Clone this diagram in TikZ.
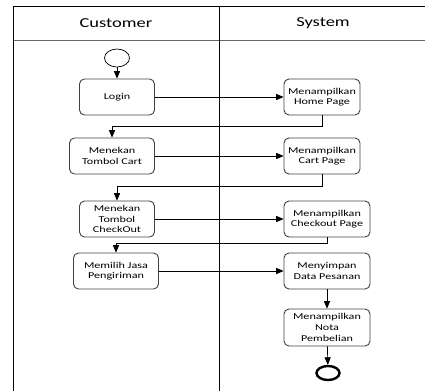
\documentclass[tikz,border=0pt]{standalone}
\usepackage{fontspec}
\setmainfont{Carlito}[FakeStretch=1.35]
\usetikzlibrary{arrows,shapes.geometric}

\begin{document}
\begin{tikzpicture}[x = 1pt, y = -1pt]
\tikzstyle{ActStyle}=[
shape = rectangle,
rounded corners = 5pt,
draw = black!75,
line width = 0.9pt,
minimum height = 36pt,
inner sep = 1pt,
align = center,
font = \fontsize{9}{10.7}\selectfont]
\tikzstyle{LaneStyle}=[font = \fontsize{13.7}{16}\selectfont]
\tikzstyle{flow}=[-triangle 45, line width = 0.7pt]
\useasboundingbox (0,0) rectangle (425,391);
\draw[line width = 0.8pt] (13,6) -- (425,6);
\draw[line width = 0.8pt, black!60] (13,40) -- (425,40);
\draw[line width = 0.8pt] (13,6) -- (13,391);
\draw[line width = 0.8pt] (219,6) -- (219,391);
\node[LaneStyle] (cust) at (116,23) {Customer};
\node[LaneStyle] (sys) at (323,23) {System};
\node[ellipse, draw, line width = 0.7pt, minimum width = 25pt, minimum height = 18pt, inner sep = 0pt] (start) at (117,58) {};
\node[ActStyle, minimum width = 75pt] (login) at (117,97) {Login};
\node[ActStyle, minimum width = 76pt] (home) at (322,97) {Menampilkan\\Home Page};
\node[ActStyle, minimum width = 85pt] (cart) at (112,156) {Menekan\\Tombol Cart};
\node[ActStyle, minimum width = 76pt] (cartpage) at (322,156) {Menampilkan\\Cart Page};
\node[ActStyle, minimum width = 75pt] (checkout) at (117,219) {Menekan\\Tombol\\CheckOut};
\node[ActStyle, minimum width = 86pt] (checkoutpage) at (327,219) {Menampilkan\\Checkout Page};
\node[ActStyle, minimum width = 85pt] (jasa) at (116,271) {Memilih Jasa\\Pengiriman};
\node[ActStyle, minimum width = 86pt] (simpan) at (327,271) {Menyimpan\\Data Pesanan};
\node[ActStyle, minimum width = 86pt, minimum height = 37pt] (nota) at (327,327.5) {Menampilkan\\Nota\\Pembelian};
\node[ellipse, draw, line width = 2.4pt, minimum width = 23pt, minimum height = 14pt, inner sep = 0pt] (end) at (328,373) {};
\draw[flow] (start) -- (login);
\draw[flow] (login) -- (home);
\draw[flow] (home.south) -- ++(0,11) -| (cart.north);
\draw[flow] (cart) -- (cartpage);
\draw[flow] (cartpage.south) -- ++(0,12) -| (checkout.north);
\draw[flow] (checkout) -- (checkoutpage);
\draw[flow] (checkoutpage.south) -- ++(0,6) -| (jasa.north);
\draw[flow] (jasa) -- (simpan);
\draw[flow] (simpan) -- (nota);
\draw[flow] (nota) -- (end);
\end{tikzpicture}
\end{document}
